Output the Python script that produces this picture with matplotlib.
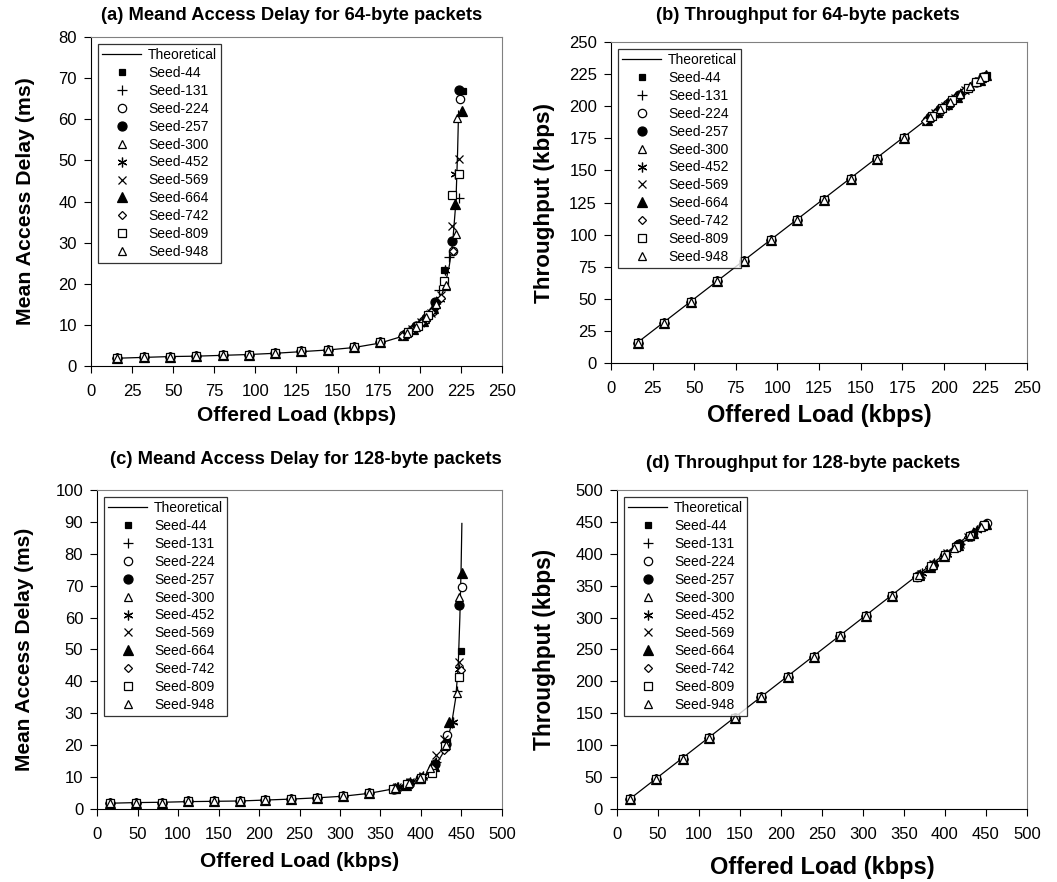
import matplotlib.pyplot as plt

plt.rcParams['font.family'] = ['Liberation Sans', 'DejaVu Sans']

seeds = ['Seed-44', 'Seed-131', 'Seed-224', 'Seed-257', 'Seed-300', 'Seed-452',
         'Seed-569', 'Seed-664', 'Seed-742', 'Seed-809', 'Seed-948']

# ---- 64-byte packets ----
# points shared by all seeds at low load
low_load64 = [16, 32, 48, 64, 80, 96, 112, 128, 144, 160, 176]
low_delay64 = [2.0, 2.2, 2.3, 2.4, 2.7, 2.8, 3.1, 3.6, 4.0, 4.6, 5.8]
low_thr64 = [15.5, 31.5, 47.5, 63.5, 79.5, 95.5, 111, 127, 143, 159, 175]
# high load points, one list per seed
tail_load64 = [[191, 197, 203, 209, 215, 226],
               [193, 199, 205, 211.5, 217.8, 224],
               [190, 196, 202, 208, 220, 224.5],
               [192, 198, 204, 209, 219.6, 223.7],
               [191, 197, 203, 210, 216, 222.7],
               [194, 200, 206, 212, 215.6, 221.3],
               [195, 201, 207, 213, 219.8, 223.7],
               [190, 196, 202, 208, 221.5, 225.5],
               [189, 195, 201, 207, 213, 220],
               [193, 199, 205, 214.6, 219.4, 224],
               [192, 198, 204, 210, 216, 221.9]]
tail_delay64 = [[7.8, 9.2, 11.3, 14.5, 23.4, 66.8],
                [8.3, 10.0, 12.2, 18.4, 26.5, 40.9],
                [7.6, 8.9, 11.0, 13.5, 28.0, 65.0],
                [8.0, 9.7, 11.8, 15.5, 30.4, 67.2],
                [7.8, 9.4, 11.5, 15.0, 19.4, 60.4],
                [8.6, 10.3, 12.8, 16.2, 23.4, 46.6],
                [8.9, 10.6, 13.0, 17.2, 34.0, 50.4],
                [7.6, 9.0, 11.0, 14.0, 39.3, 61.9],
                [7.3, 8.8, 10.5, 13.2, 16.5, 28.0],
                [8.2, 9.8, 12.3, 20.6, 41.7, 46.6],
                [8.0, 9.6, 12.0, 15.0, 19.6, 32.2]]
tail_thr64 = [[190.5, 196.5, 202.5, 208.5, 214.5, 224.5],
              [192.5, 198.5, 204.5, 211, 217, 222.5],
              [189.5, 195.5, 201.5, 207.5, 219, 223],
              [191.5, 197.5, 203.5, 208.5, 218.5, 222.5],
              [190.5, 196.5, 202.5, 209.5, 215.5, 222],
              [193.5, 199.5, 205.5, 211.5, 215, 220.5],
              [194.5, 200.5, 206.5, 212.5, 219, 222.5],
              [189.5, 195.5, 201.5, 207.5, 220.5, 224],
              [188.5, 194.5, 200.5, 206.5, 212.5, 219],
              [192.5, 198.5, 204.5, 214, 218.5, 223],
              [191.5, 197.5, 203.5, 209.5, 215.5, 221]]
theo_load64 = [16, 32, 48, 64, 80, 96, 112, 128, 144, 160, 176, 190, 200, 205,
               210, 215, 218, 220, 222, 223, 223.6]
theo_delay64 = [1.9, 2.1, 2.3, 2.4, 2.6, 2.8, 3.1, 3.5, 3.9, 4.5, 5.6, 7.3, 9.5,
                11.2, 14.2, 19.0, 24.5, 30.0, 40.0, 52.0, 62.0]
theo_thr_x64 = [15, 226]
theo_thr_y64 = [15, 226]

# ---- 128-byte packets ----
low_load128 = [16, 48, 80, 112, 144, 176, 208, 240, 272, 304, 336]
low_delay128 = [1.8, 1.9, 2.0, 2.4, 2.5, 2.5, 2.9, 3.1, 3.4, 4.0, 4.9]
low_thr128 = [15.5, 47.5, 79, 111, 143, 175, 207, 238, 271, 302, 334]
tail_load128 = [[368, 384, 400, 416, 432, 449.8],
                [370, 386, 401, 418, 438, 444.5],
                [366, 383, 399, 415, 432, 451],
                [367, 385, 400, 417, 431, 446.5],
                [369, 384, 398, 413, 430, 446.5],
                [372, 387, 402, 417.7, 439.5, 447],
                [371, 386, 403, 418, 428.4, 446.5],
                [368, 382, 399, 416, 434.6, 450.2],
                [365, 381, 397, 414, 428.4, 449],
                [366, 383, 400, 413.6, 430, 447],
                [368, 385, 399, 410.7, 431, 444.5]]
tail_delay128 = [[6.5, 7.8, 9.8, 13.5, 21.0, 49.5],
                 [6.8, 8.2, 10.0, 14.8, 27.0, 37.1],
                 [6.3, 7.6, 9.6, 13.0, 23.2, 69.5],
                 [6.4, 8.0, 9.8, 14.0, 20.5, 64.0],
                 [6.6, 7.8, 9.4, 12.5, 20.0, 66.6],
                 [7.0, 8.4, 10.2, 14.5, 27.4, 44.0],
                 [6.9, 8.3, 10.3, 16.9, 22.0, 46.0],
                 [6.5, 7.6, 9.6, 13.6, 27.4, 73.9],
                 [6.2, 7.4, 9.3, 12.8, 18.5, 43.6],
                 [6.3, 7.7, 9.8, 11.2, 19.7, 41.3],
                 [6.5, 8.0, 9.6, 12.7, 20.2, 36.3]]
tail_thr128 = [[366, 382, 398, 414, 430, 447],
               [368, 384, 399, 416, 435, 442],
               [364, 381, 397, 413, 429, 448],
               [365, 383, 398, 415, 428, 444],
               [367, 382, 396, 411, 428, 444],
               [370, 385, 400, 415, 437, 445],
               [369, 384, 401, 416, 426, 444],
               [366, 380, 397, 414, 432, 447],
               [363, 379, 395, 412, 426, 446],
               [364, 381, 398, 411, 428, 445],
               [366, 383, 397, 409, 429, 442]]
theo_load128 = [16, 48, 80, 112, 144, 176, 208, 240, 272, 304, 336, 368, 384,
                400, 416, 426, 432, 438, 443, 446, 448, 449.5, 450.5]
theo_delay128 = [1.8, 2.0, 2.1, 2.3, 2.4, 2.5, 2.8, 3.1, 3.5, 4.0, 4.9, 6.4, 7.6,
                 9.6, 13.0, 17.0, 21.0, 27.0, 35.0, 45.0, 60.0, 75.0, 89.5]
theo_thr_x128 = [15, 450]
theo_thr_y128 = [15, 450]

# marker style per seed: (marker, size, filled)
styles = [('s', 4, True), ('+', 7, False), ('o', 6, False), ('o', 6.5, True),
          ('^', 6, False), ((6, 2, 0), 7, False), ('x', 6, False), ('^', 6.5, True),
          ('D', 4.5, False), ('s', 6, False), ('^', 6, False)]

W, H = 1057, 882


def draw(ax, low_x, low_y, tails_x, tails_y, theo_x, theo_y, title, title_xy,
         ylabel, xmax, xstep, ymax, ystep, xl_size, yl_size, xl_y, yl_x):
    ax.plot(theo_x, theo_y, '-', color='black', lw=0.9, label='Theoretical')
    for i, name in enumerate(seeds):
        m, ms, filled = styles[i]
        ax.plot(low_x + tails_x[i], low_y + tails_y[i], linestyle='none',
                marker=m, markersize=ms, markeredgecolor='black',
                markerfacecolor='black' if filled else 'white',
                markeredgewidth=0.9, label=name)
    ax.set_xlim(0, xmax)
    ax.set_ylim(0, ymax)
    ax.set_xticks(range(0, xmax + 1, xstep))
    ax.set_yticks(range(0, ymax + 1, ystep))
    ax.tick_params(labelsize=12, direction='out', length=5, width=0.8)
    ax.tick_params(axis='x', pad=8)
    ax.tick_params(axis='y', pad=5)
    ax.spines['top'].set_color('#808080')
    ax.spines['right'].set_color('#808080')
    fig.text(title_xy[0] / W, 1 - title_xy[1] / H, title, fontsize=13.2,
             fontweight='bold', ha='center', va='center')
    ax.set_xlabel('Offered Load (kbps)', fontsize=xl_size, fontweight='bold')
    ax.set_ylabel(ylabel, fontsize=yl_size, fontweight='bold')
    ax.xaxis.set_label_coords(0.5, xl_y)
    ax.yaxis.set_label_coords(yl_x, 0.5)
    ax.xaxis.label.set_va('center')
    ax.yaxis.label.set_va('center')
    leg = ax.legend(loc='upper left', fontsize=10, frameon=True, fancybox=False,
                    edgecolor='black', handlelength=2.8, labelspacing=0.28,
                    borderaxespad=0.5, borderpad=0.3, handletextpad=0.5)
    leg.get_frame().set_linewidth(0.9)


fig = plt.figure(figsize=(10.57, 8.82), dpi=100)
ax_a = fig.add_axes([0.0861, 0.585, 0.3888, 0.373])
ax_b = fig.add_axes([0.578, 0.5884, 0.3936, 0.364])
ax_c = fig.add_axes([0.0918, 0.0828, 0.3831, 0.3617])
ax_d = fig.add_axes([0.5837, 0.0828, 0.3879, 0.3617])

draw(ax_a, low_load64, low_delay64, tail_load64, tail_delay64,
     theo_load64, theo_delay64, '(a) Meand Access Delay for 64-byte packets',
     (291.5, 15), 'Mean Access Delay (ms)', 250, 25, 80, 10, 15, 15.3, -0.149, -0.16)
draw(ax_b, low_load64, low_thr64, tail_load64, tail_thr64,
     theo_thr_x64, theo_thr_y64, '(b) Throughput for 64-byte packets',
     (808, 15), 'Throughput (kbps)', 250, 25, 250, 25, 17, 16.2, -0.162, -0.159)
draw(ax_c, low_load128, low_delay128, tail_load128, tail_delay128,
     theo_load128, theo_delay128, '(c) Meand Access Delay for 128-byte packets',
     (306, 460), 'Mean Access Delay (ms)', 500, 50, 100, 10, 15, 15, -0.166, -0.178)
draw(ax_d, low_load128, low_thr128, tail_load128, tail_thr128,
     theo_thr_x128, theo_thr_y128, '(d) Throughput for 128-byte packets',
     (803, 464), 'Throughput (kbps)', 500, 50, 500, 50, 17, 16.3, -0.182, -0.176)

plt.savefig('out.png', dpi=100)
